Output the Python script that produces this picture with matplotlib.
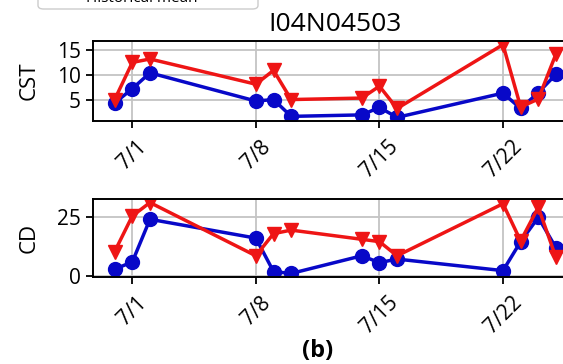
import datetime as dt
import matplotlib
matplotlib.use('Agg')
import matplotlib.pyplot as plt
from matplotlib.patches import FancyBboxPatch

plt.rcParams['font.family'] = ['Open Sans', 'DejaVu Sans']

# days of July 2019 (0 = June 30)
days = [0, 1, 2, 8, 9, 10, 14, 15, 16, 22, 23, 24, 25]
dates = [dt.datetime(2019, 6, 30) + dt.timedelta(days=d) for d in days]

cst_blue = [4.3, 7.2, 10.4, 4.7, 5.0, 1.6, 1.9, 3.4, 1.4, 6.3, 3.2, 6.4, 10.1]
cst_red = [5.0, 12.5, 13.2, 8.1, 10.9, 5.0, 5.3, 7.7, 3.2, 16.1, 3.5, 5.1, 14.2]

cd_blue = [2.8, 5.9, 24.0, 16.0, 1.8, 1.0, 8.5, 5.6, 7.1, 2.2, 14.5, 24.8, 11.9]
cd_red = [10.3, 25.4, 31.1, 8.5, 17.9, 19.4, 15.5, 14.5, 8.5, 30.6, 14.8, 29.1, 7.8]

tick_dates = [dt.datetime(2019, 7, d) for d in (1, 8, 15, 22)]
tick_labels = ['7/1', '7/8', '7/15', '7/22']

title = 'I04N04503'
blue = '#0808c8'
red = '#ee1515'

fig = plt.figure(figsize=(5.63, 3.64), dpi=100)
W, H = 563.0, 364.0
# axes run past the right edge (the original figure was cropped)
axw = 578 - 92.6
ax1 = fig.add_axes([92.6 / W, 1 - 121 / H, axw / W, 80 / H])
ax2 = fig.add_axes([92.6 / W, 1 - 277 / H, axw / W, 78 / H])

for ax, yb, yr, lab in [(ax1, cst_blue, cst_red, 'CST'), (ax2, cd_blue, cd_red, 'CD')]:
    ax.plot(dates, yb, color=blue, lw=2.5, marker='o', ms=10)
    ax.plot(dates, yr, color=red, lw=2.5, marker='v', ms=10.5)
    ax.set_xticks(tick_dates)
    ax.set_xticklabels(tick_labels, rotation=45, ha='center')
    ax.grid(True, color='#c4c4c4', lw=1.3)
    ax.set_axisbelow(True)
    ax.tick_params(labelsize=15, width=1.3, length=5)
    ax.tick_params(axis='x', pad=6)
    ax.set_ylabel(lab, fontsize=16)
    ax.yaxis.set_label_coords((40 - 92.6) / axw, 0.5)
    for s in ax.spines.values():
        s.set_linewidth(1.4)

ax1.set_yticks([5, 10, 15])
ax2.set_yticks([0, 25])
ax1.set_title(title, fontsize=19, pad=7)
fig.text(318 / W, 1 - 351 / H, '(b)', fontsize=17, fontweight='bold',
         ha='center', va='center')

# legend box cut off at the top
box = FancyBboxPatch((38 / W, 1 - 9 / H), 220 / W, 40 / H,
                     boxstyle='round,pad=0,rounding_size=0.01',
                     transform=fig.transFigure, facecolor='white',
                     edgecolor='#cccccc', lw=1)
fig.patches.append(box)
fig.text(142 / W, 1 - 1.5 / H, 'Historical mean', fontsize=11,
         ha='center', va='baseline')

fig.savefig('out.png', dpi=100)
